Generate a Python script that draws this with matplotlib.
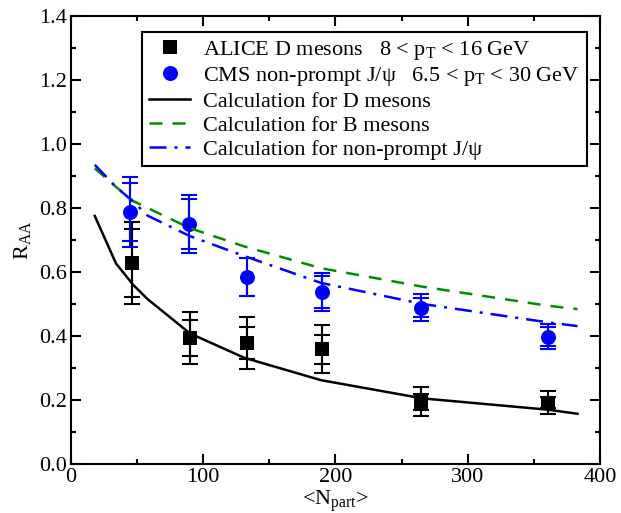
import matplotlib
matplotlib.use("Agg")
import matplotlib.pyplot as plt
from matplotlib.ticker import MultipleLocator

# measured data (ALICE D mesons, CMS non-prompt J/psi)
npart_data = [46, 90, 133, 190, 265, 361]
raa_d = [0.628, 0.394, 0.378, 0.359, 0.195, 0.192]
d_err_outer = [0.127, 0.08, 0.08, 0.075, 0.045, 0.035]
d_err_inner = [0.105, 0.057, 0.05, 0.045, 0.025, 0.018]

npart_jpsi = [45, 89, 133, 190, 265, 361]
raa_jpsi = [0.788, 0.75, 0.585, 0.538, 0.488, 0.398]
jpsi_err_outer = [0.11, 0.092, 0.06, 0.06, 0.042, 0.04]
jpsi_err_inner = [0.09, 0.078, 0.06, 0.05, 0.03, 0.03]

# model calculations
npart_calc = [18, 34, 47, 58, 90, 131, 189, 266, 360, 383]
calc_d = [0.775, 0.627, 0.56, 0.515, 0.408, 0.332, 0.262, 0.205, 0.170, 0.157]
calc_b = [0.924, 0.866, 0.822, 0.800, 0.737, 0.680, 0.612, 0.554, 0.495, 0.484]
calc_jpsi = [0.935, 0.866, 0.820, 0.776, 0.712, 0.650, 0.566, 0.500, 0.443, 0.431]

plt.rcParams["font.family"] = ["Liberation Serif", "DejaVu Serif"]
plt.rcParams["mathtext.fontset"] = "custom"
plt.rcParams["mathtext.rm"] = "Liberation Serif"
plt.rcParams["mathtext.it"] = "Liberation Serif:italic"

fig = plt.figure(figsize=(6.21, 5.13), dpi=100)
ax = fig.add_axes([0.1143, 0.0955, 0.8519, 0.8733])

green = "#008c00"

for err in (d_err_outer, d_err_inner):
    ax.errorbar(npart_data, raa_d, yerr=err, fmt="none", ecolor="black",
                elinewidth=1.5, capsize=5.7, capthick=1.5, zorder=2)
for err in (jpsi_err_outer, jpsi_err_inner):
    ax.errorbar(npart_jpsi, raa_jpsi, yerr=err, fmt="none", ecolor="blue",
                elinewidth=1.5, capsize=5.7, capthick=1.5, zorder=2)

h_alice, = ax.plot(npart_data, raa_d, ls="none", marker="s", ms=9.5,
                   color="black", mew=0, zorder=3,
                   label=r"ALICE D mesons   8 < p$_{\mathrm{T}}$ < 16 GeV")
h_cms, = ax.plot(npart_jpsi, raa_jpsi, ls="none", marker="o", ms=10.8,
                 color="blue", mew=0, zorder=3,
                 label=u"CMS non-prompt J/\u03c8   6.5 < p$_{\\mathrm{T}}$ < 30 GeV")

h_d, = ax.plot(npart_calc, calc_d, color="black", lw=1.8, zorder=4,
               label="Calculation for D mesons")
h_b, = ax.plot(npart_calc, calc_b, color=green, lw=1.8, ls=(0, (5.2, 4)),
               zorder=4, label="Calculation for B mesons")
h_j, = ax.plot(npart_calc, calc_jpsi, color="blue", lw=1.8,
               ls=(0, (6.8, 3.2, 1.2, 3.2)), zorder=4,
               label=u"Calculation for non-prompt J/\u03c8")

ax.set_xlim(0, 400)
ax.set_ylim(0, 1.4)
ax.xaxis.set_major_locator(MultipleLocator(100))
ax.xaxis.set_minor_locator(MultipleLocator(50))
ax.yaxis.set_major_locator(MultipleLocator(0.2))
ax.yaxis.set_minor_locator(MultipleLocator(0.1))
ax.tick_params(which="both", direction="in", top=True, right=True,
               labelsize=16, width=1.5, pad=3)
ax.tick_params(which="major", length=7)
ax.tick_params(which="minor", length=3.6)
for s in ax.spines.values():
    s.set_linewidth(1.5)

ax.set_xlabel(r"<N$_{\mathrm{part}}$>", fontsize=16, labelpad=1)
ax.set_ylabel(r"R$_{\mathrm{AA}}$", fontsize=16, labelpad=4)

leg = ax.legend(handles=[h_alice, h_cms, h_d, h_b, h_j], loc="upper right",
                bbox_to_anchor=(0.975, 0.964), borderaxespad=0,
                fontsize=16, frameon=True, fancybox=False, framealpha=1,
                edgecolor="black", handlelength=1.85, handletextpad=0.6,
                labelspacing=0.15, borderpad=0.3, numpoints=1)
leg.get_frame().set_linewidth(1.5)

fig.savefig("out.png", dpi=100)
